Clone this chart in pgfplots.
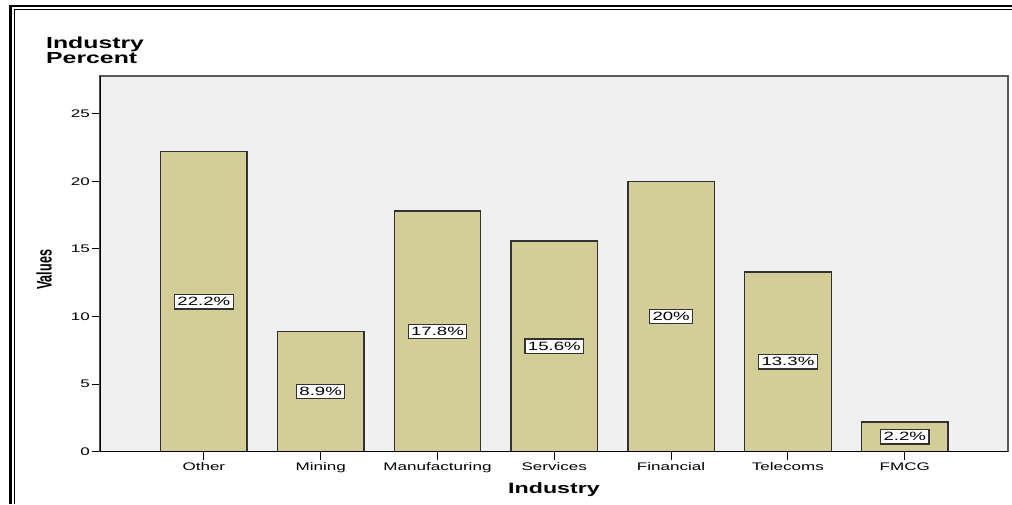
\documentclass[border=0pt]{standalone}
\usepackage{pgfplots}
\pgfplotsset{compat=1.18}
\usepackage{fontspec}
\setmainfont{Liberation Sans}[FakeStretch=1.55]
\newfontfamily\narrowfont{Liberation Sans}[FakeStretch=0.6]
\definecolor{barfill}{RGB}{211,206,152}
\definecolor{bgfill}{RGB}{240,240,240}
\definecolor{edge}{RGB}{50,50,50}
\begin{document}
\begin{tikzpicture}[x=1pt,y=1pt]
% axis box lower left corner sits at the origin
\path[use as bounding box] (-100,-52.3) rectangle (912,451.7);
\begin{axis}[
    width=908pt, height=375.7pt, scale only axis,
    xmin=-0.889, xmax=6.884,
    ymin=0, ymax=27.8,
    axis background/.style={fill=bgfill},
    axis line style={draw=gray!70!black, line width=1.3pt},
    ybar, bar width=0.74, bar shift=0pt,
    xtick={0,...,6},
    xticklabels={Other,Mining,Manufacturing,Services,Financial,Telecoms,FMCG},
    ytick={0,5,...,25},
    tick align=outside, tick pos=left,
    major tick length=8pt,
    tick style={black, line width=1pt},
    ticklabel style={font=\fontsize{11}{12}\selectfont, inner sep=0.5pt},
    xticklabel style={yshift=-2.5pt},
    yticklabel style={xshift=-1.5pt},
    /pgf/number format/assume math mode=true,
    xlabel={Industry}, ylabel={Values},
    xlabel style={at={(axis description cs:0.5,-0.0815)}, anchor=north, inner sep=0pt,
        font=\bfseries\fontsize{15}{16}\selectfont},
    ylabel style={at={(axis description cs:-0.0529,0.484)}, anchor=south, inner sep=0pt,
        font=\narrowfont\bfseries\fontsize{21}{22}\selectfont},
    point meta=explicit symbolic,
    visualization depends on={rawy \as \rawy},
    nodes near coords,
    every node near coord/.style={anchor=center,
        shift={(axis direction cs:0,-\rawy/2)},
        fill=white, draw=edge, line width=1.2pt, inner sep=3pt,
        font=\fontsize{12}{13}\selectfont, text=black},
]
\addplot[fill=barfill, draw=edge, line width=1.3pt] coordinates {
    (0,22.2) [22.2\%]
    (1,8.9)  [8.9\%]
    (2,17.8) [17.8\%]
    (3,15.6) [15.6\%]
    (4,20)   [20\%]
    (5,13.3) [13.3\%]
    (6,2.2)  [2.2\%]
};
\draw[black, line width=1.3pt] (rel axis cs:0,1) -- (rel axis cs:0,0) -- (rel axis cs:1,0);
\end{axis}
% outer double frame
\draw[line width=2.6pt] (-89.2,-52.3) -- (-89.2,445.5) -- (912,445.5);
\draw[line width=1pt] (-85.8,-52.3) -- (-85.8,442.2) -- (912,442.2);
\node[anchor=north west, inner sep=0pt, align=left,
      font=\bfseries\fontsize{16}{15}\selectfont] at (-54,414.7) {Industry\\Percent};
\end{tikzpicture}
\end{document}
